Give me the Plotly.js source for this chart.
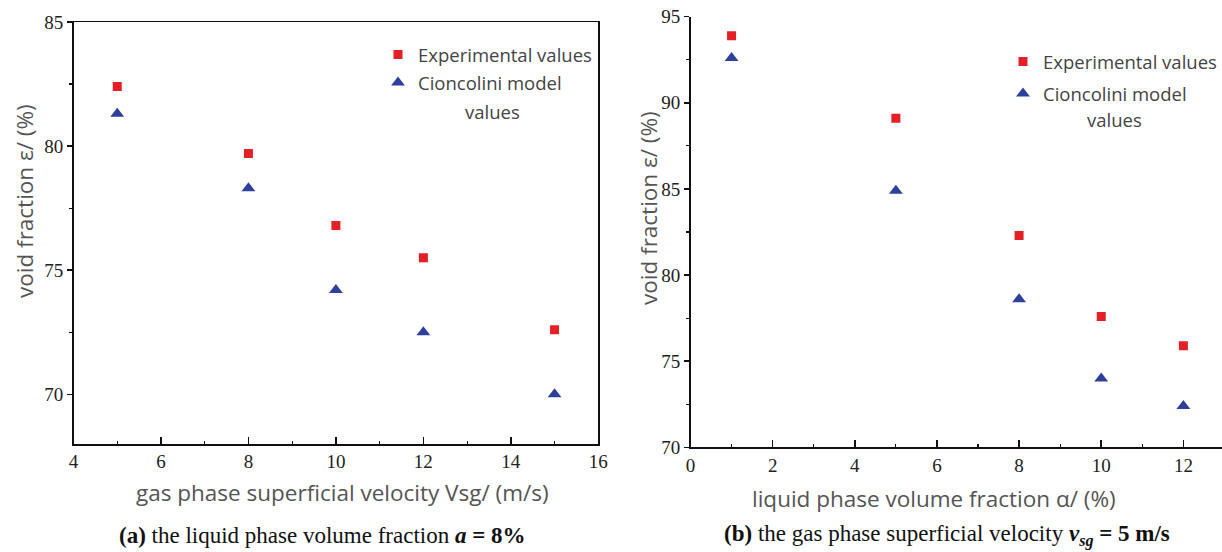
<!DOCTYPE html>
<html>
<head>
<meta charset="utf-8">
<script src="https://cdn.plot.ly/plotly-3.0.1.min.js"></script>
<style>html,body{margin:0;padding:0;background:#fff;}#chart{width:1222px;height:552px;}</style>
</head>
<body>
<div id="chart"></div>
<script>
// Panel (a): liquid phase volume fraction a = 8%
const velocityA = [5, 8, 10, 12, 15];
const experimentalA = [82.4, 79.7, 76.8, 75.5, 72.6];
const cioncoliniA = [81.3, 78.3, 74.2, 72.5, 70.0];
// Panel (b): gas phase superficial velocity vsg = 5 m/s
const fractionB = [1, 5, 8, 10, 12];
const experimentalB = [93.9, 89.1, 82.3, 77.6, 75.9];
const cioncoliniB = [92.6, 84.9, 78.6, 74.0, 72.4];

const seriesNames = ['Experimental values', 'Cioncolini model'];
const xTitleA = 'gas phase superficial velocity Vsg/ (m/s)';
const xTitleB = 'liquid phase volume fraction \u03b1/ (%)';
const yTitle = 'void fraction \u03b5/ (%)';
const captionA = '<b>(a)</b> the liquid phase volume fraction <b><i>a</i> = 8%</b>';
const captionB = '<b>(b)</b> the gas phase superficial velocity <b><i>v<sub>sg</sub></i> = 5 m/s</b>';

const RED = '#e41f26';
const BLUE = '#2f3f9c';
const W = 1222, H = 552;
const px = v => v / W;
const py = v => 1 - v / H;

const sq = {symbol: 'square', size: 9, color: RED};
const tri = {symbol: 'triangle-up', size: 12, color: BLUE};

const traces = [
  {x: velocityA, y: experimentalA, type: 'scatter', mode: 'markers', marker: sq, name: seriesNames[0], xaxis: 'x', yaxis: 'y', legend: 'legend', legendgroup: 'a1'},
  {x: velocityA, y: cioncoliniA, type: 'scatter', mode: 'markers', marker: tri, name: seriesNames[1], xaxis: 'x', yaxis: 'y', legend: 'legend', legendgroup: 'a2'},
  {x: fractionB, y: experimentalB, type: 'scatter', mode: 'markers', marker: sq, name: seriesNames[0], xaxis: 'x2', yaxis: 'y2', legend: 'legend2', legendgroup: 'b1'},
  {x: fractionB, y: cioncoliniB, type: 'scatter', mode: 'markers', marker: tri, name: seriesNames[1], xaxis: 'x2', yaxis: 'y2', legend: 'legend2', legendgroup: 'b2'}
];

const tickFont = {family: 'Liberation Serif', size: 19, color: '#222'};
const sansFont = {family: 'Open Sans', size: 22.5, color: '#555'};
const legFont = {family: 'Open Sans', size: 18.5, color: '#444'};
const capFont = {family: 'Liberation Serif', size: 23, color: '#111'};

function xAxis(domain, range, mirror, anchor) {
  return {
    domain: domain, range: range, dtick: 2, tick0: 0, anchor: anchor,
    showline: true, linecolor: '#111', linewidth: 1.5, mirror: mirror,
    ticks: 'inside', ticklen: 7, tickwidth: 1.5, tickcolor: '#111',
    minor: {dtick: 1, ticks: 'inside', ticklen: 3.5, tickwidth: 1.2, tickcolor: '#111'},
    showgrid: false, zeroline: false, tickfont: tickFont
  };
}
function yAxis(domain, range, anchor, mirror) {
  return {
    domain: domain, range: range, dtick: 5, tick0: 0, anchor: anchor,
    showline: true, linecolor: '#111', linewidth: 1.5, mirror: mirror,
    ticks: 'outside', ticklen: 5, tickwidth: 1.5, tickcolor: '#111',
    minor: {dtick: 2.5, ticks: 'outside', ticklen: 3, tickwidth: 1.2, tickcolor: '#111'},
    showgrid: false, zeroline: false, tickfont: tickFont
  };
}

function note(text, x, y, font, angle) {
  return {text: text, x: px(x), y: py(y), xref: 'paper', yref: 'paper', xanchor: 'center', yanchor: 'middle',
          showarrow: false, textangle: angle || 0, font: font};
}

const layout = {
  width: W, height: H,
  margin: {l: 0, r: 0, t: 0, b: 0},
  paper_bgcolor: '#fff', plot_bgcolor: '#fff',
  showlegend: true,
  xaxis: xAxis([px(73.5), px(598.3)], [4, 16], true, 'y'),
  yaxis: yAxis([py(444), py(22)], [68, 85], 'x', true),
  xaxis2: xAxis([px(690.5), 1], [0, 12.94], false, 'y2'),
  yaxis2: yAxis([py(447.3), py(16.7)], [70, 95], 'x2', false),
  legend: {x: px(378), y: py(36), xanchor: 'left', yanchor: 'top', bgcolor: 'rgba(0,0,0,0)', font: legFont, traceorder: 'grouped', tracegroupgap: 1},
  legend2: {x: px(1003), y: py(43), xanchor: 'left', yanchor: 'top', bgcolor: 'rgba(0,0,0,0)', font: legFont, traceorder: 'grouped', tracegroupgap: 5},
  annotations: [
    note('values', 492, 111, legFont),
    note('values', 1114, 120, legFont),
    note(yTitle, 25, 201, sansFont, -90),
    note(yTitle, 648, 208, sansFont, -90),
    note(xTitleA, 342, 492, sansFont),
    note(xTitleB, 934, 498, sansFont),
    note(captionA, 322, 535, capFont),
    note(captionB, 947, 535, capFont)
  ]
};

Plotly.newPlot('chart', traces, layout, {displayModeBar: false, staticPlot: true});
</script>
</body>
</html>
